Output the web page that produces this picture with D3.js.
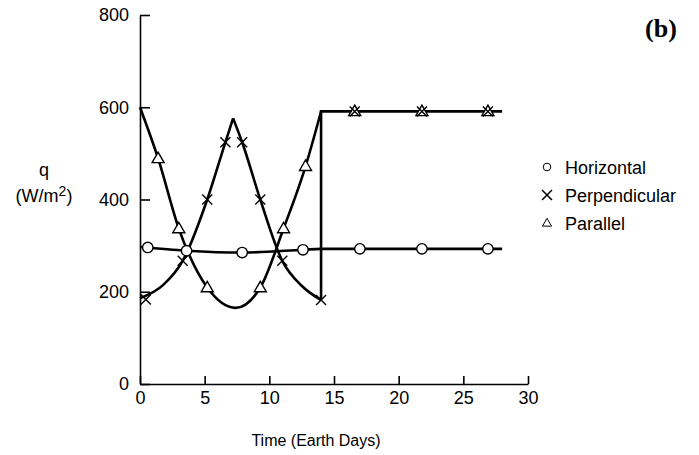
<!DOCTYPE html>
<html>
<head>
<meta charset="utf-8">
<script src="https://cdn.jsdelivr.net/npm/d3@7"></script>
<style>
  body { margin: 0; background: #fff; }
  text { font-family: "Liberation Sans", Arial, Helvetica, sans-serif; fill: #000; }
</style>
</head>
<body>
<div id="chart"></div>
<script>
// Tick labels
var timeTicks = [0, 5, 10, 15, 20, 25, 30]
var qTicks = [0, 200, 400, 600, 800]
var seriesNames = ["Horizontal", "Perpendicular", "Parallel"]

// Traced curve points (Earth days, W/m2)
var horizLineT = [0, 3.6, 7.9, 12.6, 14, 28]
var horizLineQ = [297, 289, 285, 291, 293, 293]
var perpRiseT = [0, 1.8, 3.3, 5.2, 6.6, 7.2]
var perpRiseQ = [186, 215, 267, 400, 524, 576]
var perpFallT = [7.2, 7.9, 9.3, 11.0, 12.5, 14]
var perpFallQ = [576, 524, 400, 267, 213, 182]
var paraLineT = [0, 1.4, 3.0, 5.2, 7.4, 9.3, 11.1, 12.8, 14]
var paraLineQ = [600, 489, 337, 209, 165, 209, 337, 472, 591]
// jump at day 14 then constant
var jumpT = [14, 14, 28]
var jumpQ = [182, 591, 591]

// Marker points
var horizMarkT = [0.6, 3.6, 7.9, 12.6, 17.0, 21.8, 26.9]
var horizMarkQ = [296, 289, 285, 291, 293, 293, 293]
var perpMarkT = [0.45, 3.3, 5.2, 6.6, 7.9, 9.3, 11.0, 14.0, 16.6, 21.8, 26.9]
var perpMarkQ = [183, 267, 400, 524, 524, 400, 267, 182, 591, 591, 591]
var paraMarkT = [1.4, 3.0, 5.2, 9.3, 11.1, 12.8, 16.6, 21.8, 26.9]
var paraMarkQ = [489, 337, 209, 209, 337, 472, 591, 591, 591]

// Chart dimensions
var width = 699
var height = 455

var svg = d3.select('#chart')
            .append('svg')
            .attr('width', width)
            .attr('height', height)

var xScale = d3.scaleLinear()
                .domain([0, 30])
                .range([140, 528])
var yScale = d3.scaleLinear()
                .domain([0, 800])
                .range([384, 15])

// zip two arrays into points
function pts (ts, qs) {
    return ts.map((t, i) => [t, qs[i]])
}

// Axes, ticks point inward
var xAxis = d3.axisBottom(xScale)
                .tickValues(timeTicks)
                .tickSizeInner(-8)
                .tickSizeOuter(0)
                .tickPadding(7)
var yAxis = d3.axisLeft(yScale)
                .tickValues(qTicks)
                .tickSizeInner(-10)
                .tickSizeOuter(0)
                .tickPadding(11)

var gx = svg.append('g')
            .attr('transform', 'translate(0,' + yScale(0) + ')')
            .call(xAxis)
var gy = svg.append('g')
            .attr('transform', 'translate(' + xScale(0) + ',0)')
            .call(yAxis)

svg.selectAll('.domain, .tick line')
    .attr('stroke', '#000')
    .attr('stroke-width', 1.6)
svg.selectAll('.tick text')
    .style('font-size', '18px')
    .style('font-family', '"Liberation Sans", Arial, sans-serif')
    .attr('fill', '#000')

// Axis titles
svg.append('text')
    .attr('x', 316)
    .attr('y', 446)
    .attr('text-anchor', 'middle')
    .style('font-size', '16px')
    .text('Time (Earth Days)')

svg.append('text')
    .attr('x', 44)
    .attr('y', 176)
    .attr('text-anchor', 'middle')
    .style('font-size', '18px')
    .text('q')

var unit = svg.append('text')
            .attr('x', 44)
            .attr('y', 202)
            .attr('text-anchor', 'middle')
            .style('font-size', '18px')
unit.append('tspan').text('(W/m')
unit.append('tspan').attr('dy', -6).style('font-size', '14px').text('2')
unit.append('tspan').attr('dy', 6).text(')')

// Panel label
svg.append('text')
    .attr('x', 661)
    .attr('y', 37)
    .attr('text-anchor', 'middle')
    .style('font-family', '"Liberation Serif", "Times New Roman", serif')
    .style('font-weight', 'bold')
    .style('font-size', '26px')
    .text('(b)')

// Lines
var smooth = d3.line()
                .x(d => xScale(d[0]))
                .y(d => yScale(d[1]))
                .curve(d3.curveMonotoneX)
var straight = d3.line()
                .x(d => xScale(d[0]))
                .y(d => yScale(d[1]))

var curves = [
    smooth(pts(horizLineT, horizLineQ)),
    smooth(pts(perpRiseT, perpRiseQ)),
    smooth(pts(perpFallT, perpFallQ)),
    smooth(pts(paraLineT, paraLineQ)),
    straight(pts(jumpT, jumpQ))
]

svg.selectAll('.curve')
    .data(curves)
    .enter()
    .append('path')
    .attr('class', 'curve')
    .attr('d', d => d)
    .attr('fill', 'none')
    .attr('stroke', '#000')
    .attr('stroke-width', 2.6)
    .attr('stroke-linejoin', 'miter')

// Marker shapes
function circlePath (r) {
    return 'M' + r + ',0A' + r + ',' + r + ' 0 1,1 ' + (-r) + ',0A' + r + ',' + r + ' 0 1,1 ' + r + ',0Z'
}
function trianglePath (w) {
    var h = w * 0.87
    return 'M0,' + (-h * 0.6) + 'L' + (w / 2) + ',' + (h * 0.4) + 'L' + (-w / 2) + ',' + (h * 0.4) + 'Z'
}
function crossPath (s) {
    return 'M' + (-s) + ',' + (-s) + 'L' + s + ',' + s + 'M' + (-s) + ',' + s + 'L' + s + ',' + (-s)
}

function drawMarkers (data, shape, fill, sw) {
    svg.append('g')
        .selectAll('path')
        .data(data)
        .enter()
        .append('path')
        .attr('transform', d => 'translate(' + xScale(d[0]) + ',' + yScale(d[1]) + ')')
        .attr('d', shape)
        .attr('fill', fill)
        .attr('stroke', '#000')
        .attr('stroke-width', sw)
}

drawMarkers(pts(horizMarkT, horizMarkQ), circlePath(5.2), '#fff', 1.4)
drawMarkers(pts(paraMarkT, paraMarkQ), trianglePath(12), '#fff', 1.4)
drawMarkers(pts(perpMarkT, perpMarkQ), crossPath(5), 'none', 1.4)

// Legend
var legendShapes = [circlePath(3.8), crossPath(5), trianglePath(9)]
var legend = svg.selectAll('.legend')
                .data(seriesNames)
                .enter()
                .append('g')
                .attr('class', 'legend')
                .attr('transform', (d, i) => 'translate(547,' + (167 + i * 28) + ')')

legend.append('path')
    .attr('d', (d, i) => legendShapes[i])
    .attr('fill', 'none')
    .attr('stroke', '#000')
    .attr('stroke-width', (d, i) => i == 1 ? 1.5 : 1)

legend.append('text')
    .attr('x', 18)
    .attr('y', 7)
    .style('font-size', '18px')
    .text(d => d)
</script>
</body>
</html>
